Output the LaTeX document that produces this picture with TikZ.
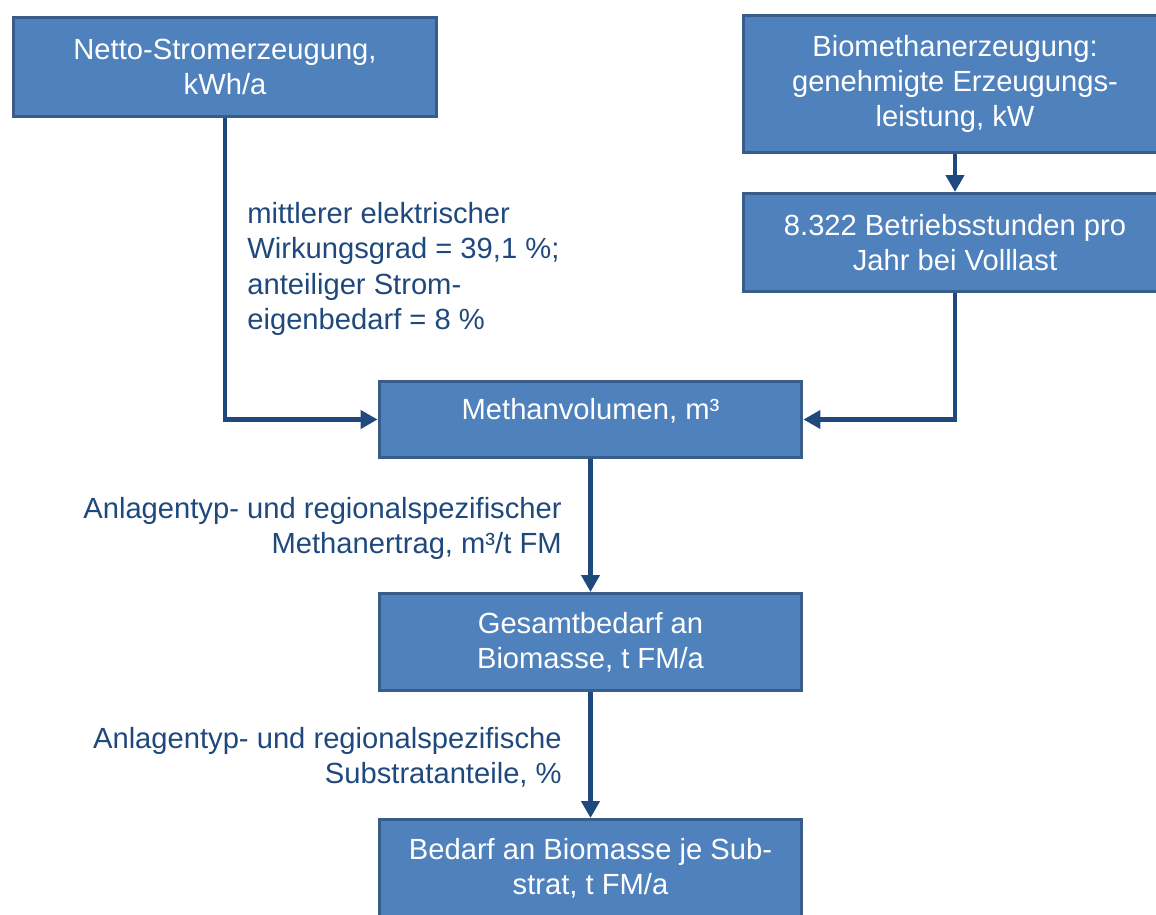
\documentclass[tikz,border=0pt]{standalone}
\usepackage{fontspec}
\setmainfont{Liberation Sans}
\usepackage{xcolor}
\usepackage{tikz}
\usetikzlibrary{arrows.meta,positioning,calc}
\definecolor{boxfill}{HTML}{4F81BD}
\definecolor{boxline}{HTML}{385D8A}
\definecolor{flowblue}{HTML}{1F497D}
\tikzset{
  stepbox/.style={draw=boxline,fill=boxfill,line width=0.06cm,text=white,align=center,
    minimum width=8.46cm,inner sep=0pt,font=\fontsize{16.6}{20.1}\selectfont},
  flowarrow/.style={-{Triangle[length=0.34cm,width=0.36cm]},line width=0.09cm,draw=flowblue},
  flowlabel/.style={text=flowblue,inner sep=0pt,font=\fontsize{16.6}{20.1}\selectfont}
}

\begin{document}
\begin{tikzpicture}[x=0.02cm,y=-0.02cm]
  \useasboundingbox (0,0) rectangle (1156,915);
  \node[stepbox,minimum height=1.98cm] (netto) at (225,67) {Netto-Stromerzeugung,\\kWh/a};
  \node[stepbox,minimum height=2.74cm] (biomethan) at (955,84) {Biomethanerzeugung:\\genehmigte Erzeugungs-\\leistung, kW};
  \node[stepbox,minimum height=1.96cm] (stunden) at (955,242.5) {8.322 Betriebsstunden pro\\Jahr bei Volllast};
  \node[stepbox,minimum height=1.52cm,text height=0.42cm,text depth=0.42cm] (methan) at (590.5,419.5) {Methanvolumen, m³};
  \node[stepbox,minimum height=1.94cm] (gesamt) at (590.5,642) {Gesamtbedarf an\\Biomasse, t FM/a};
  \node[stepbox,minimum height=1.96cm] (substrat) at (590.5,868.5) {Bedarf an Biomasse je Sub-\\strat, t FM/a};
  % Faktoren an den Pfeilen
  \node[flowlabel,align=left,anchor=north west] (wirkung) at (247,202) {mittlerer elektrischer\\Wirkungsgrad = 39,1 \%;\\anteiliger Strom-\\eigenbedarf = 8 \%};
  \node[flowlabel,align=right,anchor=north east] (ertrag) at (562,497) {Anlagentyp- und regionalspezifischer\\Methanertrag, m³/t FM};
  \node[flowlabel,align=right,anchor=north east] (anteile) at (562,727) {Anlagentyp- und regionalspezifische\\Substratanteile, \%};
  \draw[flowarrow] (netto.south) |- (methan.west);
  \draw[flowarrow] (biomethan.south) -- (stunden.north);
  \draw[flowarrow] (stunden.south) |- (methan.east);
  \draw[flowarrow] (methan.south) -- (gesamt.north);
  \draw[flowarrow] (gesamt.south) -- (substrat.north);
\end{tikzpicture}
\end{document}
